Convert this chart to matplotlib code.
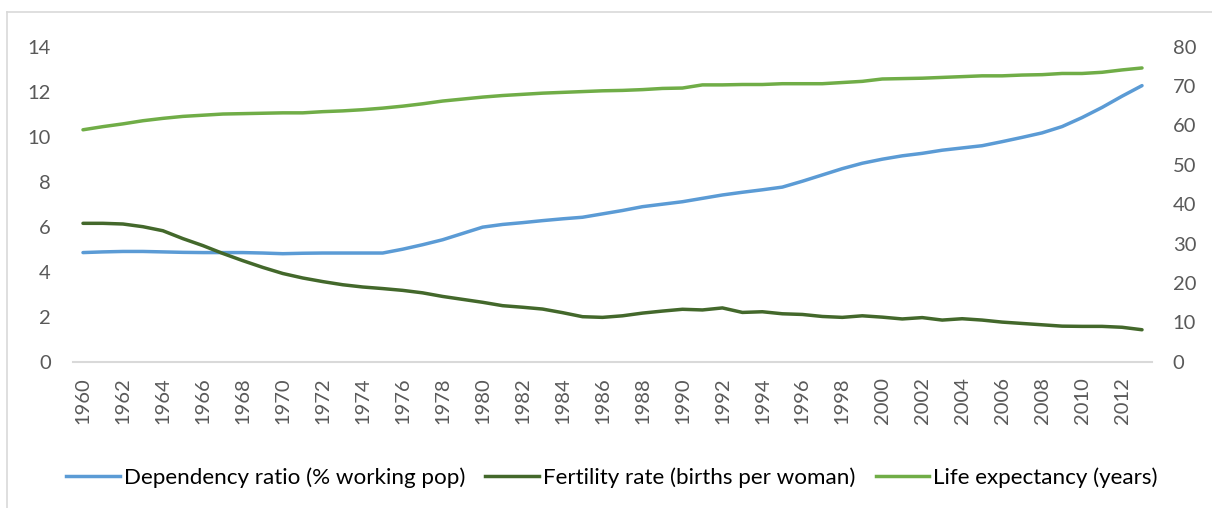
import matplotlib.pyplot as plt
from matplotlib.lines import Line2D

plt.rcParams['font.family'] = ['Lato', 'DejaVu Sans']

years = list(range(1960, 2014))

dependency = [4.85, 4.88, 4.90, 4.90, 4.88, 4.86, 4.85, 4.85, 4.85, 4.83,
              4.80, 4.82, 4.83, 4.83, 4.83, 4.83, 5.00, 5.20, 5.42, 5.70,
              5.98, 6.10, 6.18, 6.27, 6.35, 6.42, 6.57, 6.72, 6.89, 7.00,
              7.11, 7.26, 7.41, 7.53, 7.64, 7.76, 8.02, 8.30, 8.58, 8.82,
              9.00, 9.15, 9.26, 9.40, 9.50, 9.60, 9.78, 9.97, 10.17, 10.45,
              10.85, 11.30, 11.80, 12.27]

fertility = [6.15, 6.15, 6.12, 6.00, 5.82, 5.47, 5.16, 4.81, 4.49, 4.19,
             3.92, 3.72, 3.56, 3.42, 3.32, 3.25, 3.17, 3.06, 2.90, 2.77,
             2.64, 2.49, 2.42, 2.34, 2.18, 2.00, 1.97, 2.04, 2.16, 2.25,
             2.33, 2.30, 2.39, 2.19, 2.22, 2.13, 2.10, 2.01, 1.97, 2.04,
             1.98, 1.90, 1.96, 1.85, 1.91, 1.85, 1.76, 1.70, 1.64, 1.58,
             1.57, 1.57, 1.53, 1.42]

life_exp = [58.9, 59.7, 60.4, 61.2, 61.8, 62.3, 62.6, 62.9, 63.0, 63.1,
            63.2, 63.2, 63.5, 63.7, 64.0, 64.4, 64.9, 65.5, 66.2, 66.7,
            67.2, 67.6, 67.9, 68.2, 68.4, 68.6, 68.8, 68.9, 69.1, 69.4,
            69.5, 70.3, 70.3, 70.4, 70.4, 70.6, 70.6, 70.6, 70.9, 71.2,
            71.8, 71.9, 72.0, 72.2, 72.4, 72.6, 72.6, 72.8, 72.9, 73.2,
            73.2, 73.5, 74.1, 74.6]

labels = ['Dependency ratio (% working pop)',
          'Fertility rate (births per woman)',
          'Life expectancy (years)']
colors = ['#5B9BD5', '#43682B', '#70AD47']

fig = plt.figure(figsize=(12.12, 5.08), dpi=100)
ax = fig.add_axes([73 / 1212, 1 - 361.7 / 508, (1152 - 73) / 1212, (361.7 - 46.7) / 508])
ax2 = ax.twinx()

ax.plot(years, dependency, color=colors[0], linewidth=2.5, solid_capstyle='round')
ax.plot(years, fertility, color=colors[1], linewidth=2.5, solid_capstyle='round')
ax2.plot(years, life_exp, color=colors[2], linewidth=2.5, solid_capstyle='round')

ax.set_xlim(1959.5, 2013.5)
ax.set_ylim(0, 14)
ax2.set_ylim(0, 80)
ax.set_yticks(range(0, 15, 2))
ax2.set_yticks(range(0, 81, 10))
ax.set_xticks(range(1960, 2013, 2))
ax.set_xticklabels([str(y) for y in range(1960, 2013, 2)], rotation=90)

for a in (ax, ax2):
    for s in a.spines.values():
        s.set_visible(False)
    a.tick_params(length=0, labelsize=14.5, colors='#595959')
ax.spines['bottom'].set_visible(True)
ax.spines['bottom'].set_color('#D9D9D9')
ax.spines['bottom'].set_linewidth(1.5)
ax.tick_params(axis='y', pad=16)
ax2.tick_params(axis='y', pad=15)
ax.tick_params(axis='x', pad=11, labelsize=14.5)

handles = [Line2D([], [], color=c, linewidth=2.5) for c in colors]
fig.legend(handles, labels, loc='center', bbox_to_anchor=(0.505, 0.059), ncol=3,
           frameon=False, fontsize=16.1, handlelength=2.4, handletextpad=0.18,
           columnspacing=0.9)

# chart border (partly cut off on the right and bottom)
fig.add_artist(Line2D([7 / 1212, 1], [1 - 12 / 508, 1 - 12 / 508],
                      transform=fig.transFigure, color='#D9D9D9', linewidth=1.2))
fig.add_artist(Line2D([7 / 1212, 7 / 1212], [0, 1 - 12 / 508],
                      transform=fig.transFigure, color='#D9D9D9', linewidth=1.2))

fig.savefig('out.png', dpi=100)
